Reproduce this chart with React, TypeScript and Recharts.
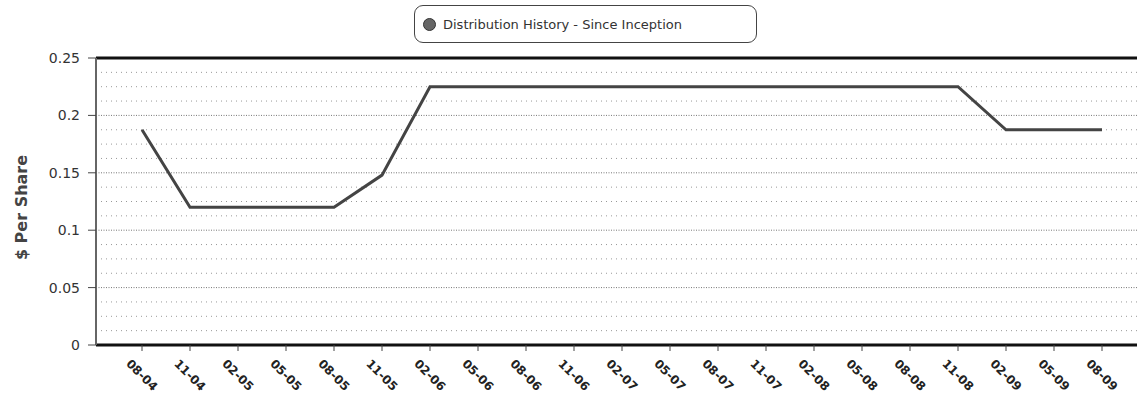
import { CartesianGrid, Legend, Line, LineChart, ReferenceLine, XAxis, YAxis } from "recharts";

const periods = [
  "08-04", "11-04", "02-05", "05-05", "08-05", "11-05", "02-06", "05-06",
  "08-06", "11-06", "02-07", "05-07", "08-07", "11-07", "02-08", "05-08",
  "08-08", "11-08", "02-09", "05-09", "08-09",
];

const perShare = [
  0.1875, 0.12, 0.12, 0.12, 0.12, 0.148, 0.225, 0.225,
  0.225, 0.225, 0.225, 0.225, 0.225, 0.225, 0.225, 0.225,
  0.225, 0.225, 0.1875, 0.1875, 0.1875,
];

const yTicks = [0, 0.05, 0.1, 0.15, 0.2, 0.25];
const minorLines = [
  0.0125, 0.025, 0.0375, 0.0625, 0.075, 0.0875, 0.1125, 0.125, 0.1375,
  0.1625, 0.175, 0.1875, 0.2125, 0.225, 0.2375,
];
const majorLines = [0.05, 0.1, 0.15, 0.2];

const seriesName = "Distribution History - Since Inception";

const data = periods.map((p, i) => ({ period: p, value: perShare[i] }));

const FONT = "'DejaVu Sans', Verdana, sans-serif";

function DateTick({ x, y, payload }: any) {
  return (
    <g transform={`translate(${x},${y + 22})`}>
      <text
        transform="rotate(45)"
        textAnchor="middle"
        dy="0.35em"
        fontFamily={FONT}
        fontSize={12}
        fontWeight="bold"
        fill="#222"
      >
        {payload.value}
      </text>
    </g>
  );
}

function LegendBox() {
  return (
    <div
      style={{
        display: "flex",
        alignItems: "center",
        boxSizing: "border-box",
        width: 343,
        height: 38,
        padding: "0 8px",
        border: "1.5px solid #444",
        borderRadius: 9,
        background: "#fff",
        fontFamily: FONT,
        fontSize: 13,
        color: "#333",
        whiteSpace: "nowrap",
      }}
    >
      <span
        style={{
          display: "inline-block",
          width: 13,
          height: 13,
          borderRadius: "50%",
          background: "#666",
          border: "1px solid #333",
          marginRight: 7,
          boxSizing: "border-box",
        }}
      />
      {seriesName}
    </div>
  );
}

function AxisTitle({ viewBox }: any) {
  const cx = viewBox.x + 22;
  const cy = viewBox.y + viewBox.height / 2 + 6;
  return (
    <text
      x={cx}
      y={cy}
      transform={`rotate(-90 ${cx} ${cy})`}
      textAnchor="middle"
      dominantBaseline="middle"
      fontFamily={FONT}
      fontSize={16}
      fontWeight="bold"
      fill="#444"
    >
      $ Per Share
    </text>
  );
}

export default function App() {
  return (
    <div
      style={{
        position: "absolute",
        left: 0,
        top: 0,
        width: 1137,
        height: 400,
        overflow: "hidden",
        background: "#fff",
      }}
    >
      <LineChart
        width={1150}
        height={400}
        data={data}
        margin={{ top: 58, right: 0, bottom: 25, left: 0 }}
      >
        <CartesianGrid vertical={false} horizontal={false} />
        {minorLines.map((v) => (
          <ReferenceLine key={`m${v}`} y={v} stroke="#999" strokeDasharray="1 4" />
        ))}
        {majorLines.map((v) => (
          <ReferenceLine key={`M${v}`} y={v} stroke="#777" strokeDasharray="1 1.5" />
        ))}
        <ReferenceLine y={0.25} stroke="#111" strokeWidth={3} />
        <XAxis
          dataKey="period"
          height={30}
          padding={{ left: 46, right: 48 }}
          interval={0}
          tick={<DateTick />}
          tickSize={6}
          axisLine={{ stroke: "#111", strokeWidth: 3 }}
          tickLine={{ stroke: "#444" }}
        />
        <YAxis
          width={96}
          domain={[0, 0.25]}
          ticks={yTicks}
          tickSize={8}
          tickMargin={8}
          tick={{ fill: "#333", fontSize: 14, fontFamily: FONT }}
          axisLine={{ stroke: "#666", strokeWidth: 2 }}
          tickLine={{ stroke: "#444" }}
          label={<AxisTitle />}
        />
        <Legend
          layout="horizontal"
          verticalAlign="middle"
          align="center"
          wrapperStyle={{ top: 5, left: 414, width: "auto" }}
          content={() => <LegendBox />}
        />
        <Line
          type="linear"
          dataKey="value"
          name={seriesName}
          stroke="#444"
          strokeWidth={3}
          dot={false}
          activeDot={false}
          isAnimationActive={false}
        />
      </LineChart>
    </div>
  );
}
